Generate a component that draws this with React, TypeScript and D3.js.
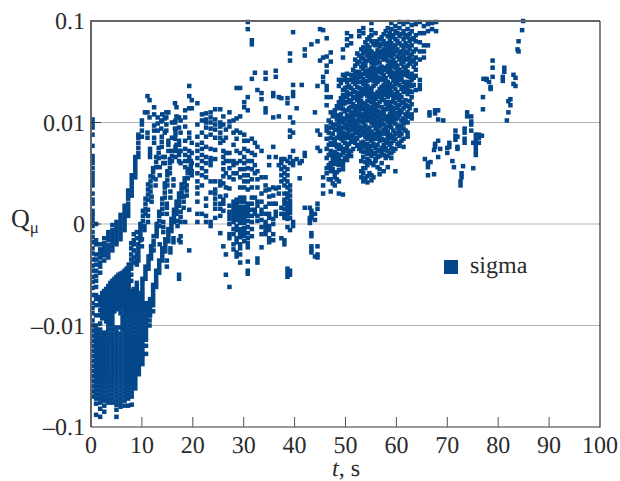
import React from 'react';
import * as d3 from 'd3';

// every column is [t, q, q, q...]; q is read in axis units: one unit per gridline
// (-2 = -0.1, -1 = -0.01, 0 = 0, 1 = 0.01, 2 = 0.1)
const startColumn: number[][] = [
  [0.3, 1.03, 0.99, 0.95, 0.88, 0.77, 0.67, 0.63, 0.6, 0.55, 0.5, 0.46, 0.42, 0.38, 0.3, 0.24, 0.2, 0.13, 0.1, 0.07, 0.03, -0.02, -0.08, -0.13, -0.18, -0.24, -0.29, -0.35, -0.41, -0.46, -0.52, -0.57, -0.63, -0.7, -0.78, -0.83, -0.88],
  [1, 0, -0.16, -0.2, -0.3, -0.35, -0.4, -0.46, -0.51, -0.56, -0.62, -0.7, -0.74, -0.8, -0.9],
];
const upperBand: number[][] = [
  [1.8, -0.2, -0.25, -0.29, -0.33, -0.38, -0.42, -0.48],
  [2.6, -0.14, -0.19, -0.23, -0.27, -0.31, -0.36],
  [3.4, -0.08, -0.12, -0.16, -0.21, -0.25, -0.29, -0.33],
  [4.2, -0.01, -0.06, -0.1, -0.14, -0.18, -0.22, -0.26],
  [5, 0.02, -0.02, -0.05, -0.09, -0.13, -0.17, -0.2],
  [5.8, 0.01, 0.05, 0.09, -0.03, -0.07, -0.11, -0.15],
  [6.6, 0.02, 0.06, 0.1, 0.14, 0.18, -0.02, -0.06],
  [7.3, 0.12, 0.16, 0.2, 0.25, 0.29, 0.33, 0.08],
  [8, 0.28, 0.32, 0.36, 0.4, 0.44, 0.48],
  [8.7, 0.46, 0.5, 0.54, 0.58, 0.62, 0.66],
  [9.3, 0.66, 0.7, 0.75, 0.8, 0.85, 0.88],
  [10, 0.86, 0.92, 0.98, 1.02],
];
const lowerBand: number[][] = [
  [1.8, -0.72, -0.76, -0.8, -0.85, -0.9],
  [2.2, -0.68, -0.73, -0.78, -0.83, -0.88, -0.93],
  [2.6, -0.66, -0.7, -0.74, -0.78, -0.82, -0.86],
  [3, -0.64, -0.68, -0.72, -0.76, -0.8, -0.84, -0.88, -0.92, -0.96],
  [3.4, -0.61, -0.66, -0.72],
  [3.8, -0.58, -0.62, -0.66, -0.7, -0.74, -0.78, -0.82, -0.86, -0.9, -0.94, -0.98],
  [4.2, -0.56, -0.6, -0.65, -0.7],
  [4.6, -0.54, -0.58, -0.62, -0.66, -0.7, -0.74, -0.78, -0.82, -0.86],
  [5, -0.52, -0.56, -0.6, -0.65, -0.7, -0.75],
  [5.4, -0.5, -0.54, -0.58, -0.62, -0.66, -0.7, -0.74, -0.78, -0.82],
  [5.8, -0.49, -0.53, -0.57, -0.61, -0.66, -0.7, -0.74, -0.79],
  [6.2, -0.48, -0.52, -0.56, -0.6, -0.64, -0.68, -0.72, -0.76, -0.8, -0.92, -0.96, -1, -1.04],
  [6.6, -0.46, -0.5, -0.54, -0.58, -0.62, -0.66, -0.7, -0.74, -0.78, -0.94, -0.98, -1.02],
  [7, -0.44, -0.48, -0.52, -0.56, -0.6, -0.64, -0.68, -0.72, -0.76, -0.8, -0.84, -0.88],
  [7.4, -0.4, -0.44, -0.48, -0.52, -0.56, -0.6, -0.64, -0.68, -0.72, -0.76],
  [7.9, -0.19, -0.24, -0.3, -0.35, -0.4, -0.44, -0.5, -0.56, -0.66, -0.7, -0.74],
  [8.4, -0.1, -0.16, -0.2, -0.26, -0.33, -0.38, -0.72, -0.68, -0.64],
  [9, -0.08, -0.14, -0.3, -0.36, -0.4, -0.7, -0.66, -0.62, -0.58],
];
const ridgeB: number[][] = [
  [9.3, -0.2, -0.24, -0.28, -0.32, -0.36],
  [9.7, -0.16, -0.12, -0.08, -0.04, 0],
  [10.2, -0.02, 0.03, 0.08, 0.13],
  [10.7, 0.1, 0.15, 0.2, 0.25],
  [11.2, 0.24, 0.29, 0.34, 0.39],
  [11.7, 0.32, 0.37, 0.42, 0.47],
  [12.2, 0.46, 0.51, 0.55],
  [12.8, 0.56, 0.61, 0.66],
  [13.3, 0.65, 0.7, 0.75],
  [13.9, 0.76, 0.81, 0.86],
];
const ridgeC: number[][] = [
  [10.1, -0.66, -0.62, -0.58, -0.54],
  [10.7, -0.54, -0.5, -0.46, -0.42],
  [11.3, -0.44, -0.4, -0.36, -0.32],
  [11.8, -0.34, -0.3, -0.26, -0.22],
  [12.3, -0.26, -0.21, -0.17, -0.12],
  [12.9, -0.12, -0.08, -0.04, 0],
  [13.4, -0.02, 0.03, 0.08, 0.12],
  [14, 0.1, 0.15, 0.2, 0.25],
  [14.5, 0.26, 0.31, 0.36, 0.4],
  [15, 0.38, 0.43, 0.48, 0.52],
  [15.5, 0.5, 0.55, 0.6, 0.64],
  [15.9, 0.62, 0.67, 0.72],
];
const ridgeD: number[][] = [
  [11.6, -0.9, -0.86, -0.82, -0.78, -0.74],
  [12.2, -0.76, -0.72, -0.68, -0.64, -0.6],
  [12.8, -0.62, -0.58, -0.54, -0.5, -0.46],
  [13.4, -0.48, -0.44, -0.4, -0.36],
  [14, -0.36, -0.32, -0.28, -0.24],
  [14.6, -0.27, -0.23, -0.19, -0.15],
  [15.2, -0.17, -0.13, -0.09, -0.05],
  [15.8, -0.07, -0.03, 0.01, 0.05],
  [16.3, 0.02, 0.06, 0.1, 0.14],
  [16.8, 0.1, 0.14, 0.18, 0.22],
  [17.3, 0.18, 0.22, 0.26, 0.3],
  [17.8, 0.27, 0.31, 0.35, 0.39],
  [18.4, 0.36, 0.41, 0.45],
  [19, 0.45, 0.5, 0.54],
  [19.6, 0.53, 0.57, 0.62],
];
// the ridges are about two marks wide in places
const ridgeEdges: number[][] = [
  [10, -0.22, -0.15],
  [10.5, -0.06, -0.02],
  [11.2, 0.02, 0.08, 0.14],
  [11.9, 0.22, 0.27],
  [12.7, 0.38, 0.44],
  [13.5, 0.48, 0.56, -0.2],
  [14.2, -0.08, -0.03, 0.02, 0.6, 0.66],
  [14.9, 0.1, 0.16, 0.2, -0.36, -0.42],
  [15.6, 0.26, 0.32, -0.28, -0.24],
  [16.2, 0.38, 0.44, -0.18, -0.14],
  [17, -0.02, 0.03],
  [17.6, 0.07, 0.12],
  [18.2, 0.16, 0.22, 0.27],
  [18.8, 0.28, 0.33, 0.38],
];
const ridgeTops: number[][] = [
  [10.6, 1.1],
  [11.6, 0.7, 0.66, 0.74],
  [12.4, 0.8, 0.85, 0.92, 0.97],
  [13.1, 0.92, 0.99, 1.05],
  [13.8, 0.94, 1.01],
  [14.5, 0.6, 0.66, 0.9, 1.04],
  [15.2, 0.72, 0.78, 0.82, 1.1],
  [15.9, 0.85, 0.02, 1],
  [16.6, 0.66, 0.72, 0.76, 0.88, 0.92, 1.02],
  [17.3, -0.16, -0.5, -0.54, 0.62, 0.68, 0.72, 0.78, 0.82, 0.95, 1.05],
];
const lowCloud: number[][] = [
  [0.3, -0.95, -1, -1.05, -1.1, -1.15, -1.2, -1.25, -1.3, -1.35, -1.4, -1.45, -1.5, -1.55, -1.6, -1.65, -1.7],
  [1, -1, -1.04, -1.08, -1.12, -1.16, -1.2, -1.24, -1.28, -1.32, -1.36, -1.4, -1.44, -1.48, -1.52, -1.56, -1.6, -1.64, -1.68, -1.72, -1.77, -1.88],
  [1.8, -0.98, -1.04, -1.08, -1.12, -1.16, -1.2, -1.24, -1.28, -1.32, -1.36, -1.4, -1.44, -1.48, -1.52, -1.56, -1.6, -1.64, -1.68, -1.72, -1.76, -1.82, -1.9],
  [2.6, -0.9, -1.07, -1.1, -1.14, -1.18, -1.22, -1.26, -1.3, -1.34, -1.38, -1.42, -1.46, -1.5, -1.54, -1.58, -1.62, -1.66, -1.7, -1.74, -1.79, -1.85],
  [3.4, -0.78, -0.84, -0.9, -0.95, -1, -1.04, -1.08, -1.12, -1.16, -1.2, -1.24, -1.28, -1.32, -1.36, -1.4, -1.44, -1.48, -1.52, -1.56, -1.6, -1.64, -1.68, -1.72, -1.76],
  [4.2, -0.76, -0.8, -0.84, -0.88, -0.92, -0.96, -1, -1.04, -1.08, -1.12, -1.16, -1.2, -1.24, -1.28, -1.32, -1.36, -1.4, -1.44, -1.48, -1.52, -1.56, -1.6, -1.64, -1.68, -1.72, -1.76],
  [5, -0.8, -0.84, -1.02, -1.06, -1.1, -1.14, -1.18, -1.22, -1.26, -1.3, -1.34, -1.38, -1.42, -1.46, -1.5, -1.54, -1.58, -1.62, -1.66, -1.7, -1.74, -1.78, -1.83, -1.9],
  [5.8, -0.84, -0.88, -1.02, -1.08, -1.12, -1.16, -1.2, -1.24, -1.28, -1.32, -1.36, -1.4, -1.44, -1.48, -1.52, -1.56, -1.6, -1.64, -1.68, -1.72, -1.76, -1.8],
  [6.6, -0.82, -0.86, -0.9, -1.06, -1.1, -1.14, -1.18, -1.22, -1.26, -1.3, -1.34, -1.38, -1.42, -1.46, -1.5, -1.54, -1.58, -1.62, -1.66, -1.7, -1.74, -1.79],
  [7.3, -0.8, -0.84, -0.88, -0.92, -0.96, -1, -1.04, -1.08, -1.12, -1.16, -1.2, -1.24, -1.28, -1.32, -1.36, -1.4, -1.44, -1.48, -1.52, -1.56, -1.6, -1.64, -1.68, -1.72, -1.79],
  [8, -0.78, -0.82, -0.86, -0.9, -0.94, -0.98, -1.02, -1.06, -1.1, -1.14, -1.18, -1.22, -1.26, -1.3, -1.34, -1.38, -1.42, -1.46, -1.5, -1.54, -1.58, -1.62, -1.66, -1.7, -1.78],
  [8.7, -0.74, -0.78, -0.82, -0.86, -0.9, -0.94, -0.98, -1.02, -1.06, -1.1, -1.14, -1.18, -1.22, -1.26, -1.3, -1.34, -1.38, -1.42, -1.46, -1.5, -1.54, -1.58, -1.62],
  [9.4, -0.68, -0.72, -0.76, -0.8, -0.84, -0.88, -0.92, -0.96, -1, -1.04, -1.08, -1.12, -1.16, -1.2, -1.24, -1.28, -1.32, -1.36, -1.4, -1.44, -1.48],
  [10.1, -0.7, -0.74, -0.78, -0.82, -0.86, -0.9, -0.94, -0.98, -1.02, -1.06, -1.1, -1.14, -1.18, -1.22, -1.26, -1.3, -1.34, -1.38],
  [10.8, -0.78, -0.82, -0.86, -0.9, -0.94, -0.98, -1.02, -1.06, -1.1, -1.14, -1.2, -1.28],
  [11.5, -0.9, -0.95, -1],
  [12.2, -0.8, -0.86],
];
const midScatter: number[][] = [
  [11.1, 1.26, 1.1, 0.9, 0.85],
  [11.5, 1.22, 1.05],
  [12.4, 1.15, 1.08],
  [14, 1.08, 1.02],
  [14.8, 1.1, 1.05, 0.98, 0.92],
  [16.5, 1.19, 1, 0.94, 0.84],
  [16.8, 1.15, 1.06, 0.78],
  [17.6, 1.02, 0.9, 0.72, 0.6, -0.12, -0.18, 0.02],
  [18.5, 1.12, 1.05, 0.96, 0.82, 0.74, 0.68, 0.62, 0.56, 0.02],
  [19.3, 1.36, 1.26, 1.14, 0.9, 0.85, 0.72, 0.66, 0.62, 0.14, -0.26],
  [19.8, 1.22, 1.14, 0.8, 0.6, 0.52, 0.48, 0.7],
  [20.9, 1.19, 0.98, 0.86, 0.78, 0.72, 0.65, 0.58, 0.5, 0.42, 0.36, 0.3, 0.22, 0.1, 0.02],
  [21.8, 1.08, 1.02, 0.9, 0.8, 0.74, 0.68, 0.62, 0.55, 0.48, 0.38, 0.1],
  [22.6, 1.09, 1.03, 1, 0.95, 0.86, 0.76, 0.66, 0.6, 0.52, 0.46, 0.25, 0.18, 0.08, 0.02],
  [23.5, 1.1, 1.05, 1, 0.94, 0.88, 0.74, 0.65, 0.62, 0.58, 0.42, 0.31, 0.02, -0.02],
  [24.4, 1.13, 1.03, 0.98, 0.93, 0.85, 0.73, 0.64, 0.42, 0.34, 0.3, 0.25, 0.2, 0.15, 0.06],
  [25.4, 1.13, 1, 0.96, 0.9, 0.85, 0.8, 0.42, 0.38, 0.27, 0.2, 0.15, 0.08, -0.09],
  [26, 1.06, 0.98, 0.82, 0.72, 0.66, 0.6, 0.54, 0.47, 0.4, 0.24, 0.2, 0.13, -0.22],
  [26.5, 0.93, 0.85, 0.7, 0.62, 0.5, 0.36, 0.28, -0.3, -0.5],
  [27.2, 1.1, 1.01, 0.96, 0.7, 0.62, 0.55, 0.46, 0.35, 0.18, 0.12, 0.09, 0.05, 0, -0.1, -0.14, -0.62],
  [28, 1.02, 0.9, 0.78, 0.62, 0.58, 0.5, 0.44, 0.22, 0.18, 0.14, 0.1, 0.06, 0.02, -0.05, -0.1, -0.2, -0.25],
  [28.6, 1.34, 1.04, 0.92, 0.84, 0.72, 0.6, 0.5, 0.24, 0.2, 0.16, 0.12, 0.08, 0.04, -0.02, -0.06, -0.14, -0.18, -0.28, -0.32],
  [29.3, 1.34, 1.06, 0.9, 0.7, 0.62, 0.54, 0.46, 0.36, 0.26, 0.22, 0.17, 0.13, 0.09, 0.05, 0.01, -0.05, -0.09, -0.13, -0.2, -0.24, -0.3, -0.38],
  [30.1, 1.15, 1.2, 0.88, 0.82, 0.74, 0.66, 0.6, 0.54, 0.48, 0.42, 0.36, 0.26, 0.22, 0.17, 0.13, 0.09, 0.05, 0.01, -0.04, -0.08, -0.12, -0.17],
  [30.8, 1.99, 1.92, 1.25, 1.12, 0.82, 0.72, 0.62, 0.55, 0.48, 0.42, 0.34, 0.2, 0.16, 0.12, 0.08, 0.03, -0.03, -0.09, -0.14, -0.19, -0.23, -0.37, -0.46, -0.49],
  [31.6, 1.81, 1.77, 1.43, 0.84, 0.7, 0.62, 0.54, 0.44, 0.36, 0.26, 0.2, 0.14, 0.08, 0.02, -0.05, -0.12],
  [32.2, 1.49, 0.8, 0.68, 0.58, 0.5, 0.26, 0.14, 0.1],
  [32.7, 1.32, 0.76, 0.52, 0.44, 0.36, 0.22, 0.18, 0.08, 0.03, -0.34, -0.38],
  [33.5, 1.29, 1.23, 0.72, 0.46, 0.3, 0.22, 0.14, 0.1, 0.04, -0.03, -0.1, -0.23],
  [34.3, 1.14, 1.1, 1.49, 1.43, 0.46, 0.38, 0.33, 0.17, 0.1, 0.02, -0.02, -0.06, -0.1],
  [35, 0.66, 0.58, 0.34, 0.27, 0.2, 0.1, 0.06, -0.02, -0.06, -0.14, -0.18],
  [35.8, 1.29, 1.26, 1.05, 0.76, 0.36, 0.28, 0.2, 0.05, 0, -0.1, -0.16],
  [36.3, 1.51, 1.45, 0.66, 0.35, 0.2, 0.12, 0.08],
  [36.9, 1.25, 1.06, 0.58, 0.36, 0.3],
  [37.4, 1.24, 0.64, 0.6, 0.54, 0.48, 0.42, 0.16, 0.1, -0.14],
  [38, 0.64, 0.56, 0.5, 0.44, 0.38, 0.3, 0.24, 0.2, 0.15, 0.1, 0.06, -0.16, -0.2],
  [38.6, 1.24, 1.19, 0.62, 0.54, 0.48, 0.42, 0.36, 0.3, 0.26, 0.21, 0.17, 0.13, 0.09, 0.05, -0.03, -0.52, -0.48, -0.44],
  [39.1, 1.68, 1.61, 1.05, 0.92, 0.86, 0.66, 0.6, 0.38, 0.33, 0.28, 0.23, 0.19, 0.15, 0.11, 0.06, -0.06, -0.5, -0.46],
  [39.7, 1.89, 1.37, 1.3, 1.26, 1, 0.9, 0.72, 0.62, 0.58, 0.02, -0.02],
  [40.4, 1.14, 0.64],
  [41, 0.6, 0.45],
  [41.4, 1.37, 0.62],
  [42, 1.72, 1.66, 0.7, 0.67, 0.16],
  [43, 0.16, 0.06, 0.01, 0.04],
  [43.3, 1.77, 0.13, 0.09, 0.06, -0.09, -0.12, -0.22, -0.25, -0.28],
  [44, 1.1, 0.1, 0.04, -0.32],
  [44.5, 1.8, 1.36, 0.92, 0.75, 0.2, 0.15, -0.22, -0.3, -0.33],
  [45, 1.92, 1.61, 0.88, 0.72],
];
const mainCloud: number[][] = [
  [45.6, 1.91, 1.64, 1.45, 1.4, 0.38, 0.46, 0.3],
  [46.3, 1.83, 1.65, 1.56, 1.5, 1.32, 1.36, 1.25, 1.17, 0.96, 0.92, 0.84, 0.74, 0.65, 0.55, 0.5],
  [47.1, 1.69, 1.6, 1.25, 1.1, 1, 0.95, 0.85, 0.8, 0.72, 0.68, 0.6, 0.56, 0.52, 0.44, 0.32],
  [47.9, 1.12, 1.08, 0.98, 0.93, 0.84, 0.8, 0.71, 0.67, 0.63, 0.59, 0.5, 0.46, 0.38],
  [48.7, 1.42, 1.36, 1.2, 1.14, 1.05, 1, 0.96, 0.91, 0.87, 0.78, 0.74, 0.66, 0.62, 0.58, 0.53, 0.42, 0.3],
  [49.5, 1.72, 1.64, 1.47, 1.42, 1.32, 1.27, 1.22, 1.18, 1.13, 1.04, 1, 0.95, 0.9, 0.86, 0.82, 0.74, 0.7, 0.62, 0.58, 0.54, 0.29],
  [50.3, 1.88, 1.82, 1.76, 1.48, 1.4, 1.35, 1.3, 1.25, 1.2, 1.12, 1.07, 1.03, 0.98, 0.94, 0.89, 0.85, 0.76, 0.72, 0.67, 0.63],
  [51.1, 1.85, 1.78, 1.47, 1.42, 1.34, 1.28, 1.2, 1.15, 1.1, 1.06, 1.01, 0.97, 0.93, 0.87, 0.83, 0.72, 0.67],
  [51.9, 1.62, 1.56, 1.5, 1.44, 1.38, 1.3, 1.25, 1.16, 1.12, 1.07, 0.99, 0.94, 0.9, 0.85, 0.8],
  [52.7, 1.9, 1.85, 1.66, 1.6, 1.5, 1.45, 1.4, 1.34, 1.29, 1.24, 1.19, 1.14, 1.1, 1.05, 0.96, 0.92, 0.87, 0.78, 0.74],
  [53.5, 1.93, 1.88, 1.74, 1.68, 1.63, 1.58, 1.53, 1.48, 1.43, 1.38, 1.33, 1.28, 1.18, 1.13, 1.08, 1.04, 1, 0.95, 0.9, 0.81, 0.76, 0.71, 0.66, 0.55, 0.5, 0.42],
  [54.3, 1.82, 1.76, 1.72, 1.66, 1.61, 1.51, 1.46, 1.41, 1.36, 1.31, 1.26, 1.21, 1.16, 1.11, 1.06, 1.02, 0.93, 0.88, 0.84, 0.79, 0.74, 0.69, 0.64, 0.58, 0.47, 0.41],
  [55.1, 1.98, 1.91, 1.86, 1.8, 1.7, 1.64, 1.59, 1.54, 1.49, 1.44, 1.34, 1.3, 1.25, 1.2, 1.15, 1.1, 1.05, 1, 0.91, 0.86, 0.82, 0.77, 0.72, 0.67, 0.6, 0.48, 0.43],
  [55.9, 1.88, 1.8, 1.76, 1.68, 1.63, 1.58, 1.53, 1.48, 1.43, 1.38, 1.28, 1.23, 1.18, 1.13, 1.08, 1.03, 0.99, 0.94, 0.89, 0.84, 0.75, 0.7, 0.64, 0.62],
  [56.7, 1.82, 1.75, 1.69, 1.64, 1.59, 1.54, 1.5, 1.42, 1.33, 1.28, 1.2, 1.1, 1.06, 1.01, 0.96, 0.91, 0.86, 0.82, 0.72, 0.67, 0.54, 0.49],
  [57.5, 1.87, 1.8, 1.72, 1.67, 1.62, 1.52, 1.47, 1.42, 1.37, 1.32, 1.27, 1.22, 1.12, 1.08, 1.03, 0.98, 0.93, 0.83, 0.78, 0.73, 0.68, 0.52],
  [58.3, 1.93, 1.85, 1.78, 1.72, 1.66, 1.61, 1.56, 1.5, 1.4, 1.35, 1.3, 1.25, 1.2, 1.16, 1.06, 1.01, 0.96, 0.91, 0.86, 0.82, 0.72, 0.67, 0.56],
  [59, 1.98, 1.92, 1.84, 1.78, 1.7, 1.65, 1.6, 1.55, 1.5, 1.45, 1.35, 1.3, 1.2, 1.15, 1.1, 1.05, 1, 0.95, 0.85, 0.8, 0.75, 0.7, 0.65],
  [59.8, 1.95, 1.9, 1.82, 1.76, 1.7, 1.59, 1.54, 1.49, 1.43, 1.38, 1.33, 1.28, 1.19, 1.14, 1.09, 1.04, 0.99, 0.89, 0.84, 0.74, 0.52],
  [60.6, 1.99, 1.93, 1.85, 1.78, 1.68, 1.62, 1.52, 1.47, 1.42, 1.37, 1.27, 1.22, 1.17, 1.12, 1.07, 0.97, 0.92, 0.87, 0.77, 0.8],
  [61.4, 1.97, 1.9, 1.82, 1.74, 1.66, 1.6, 1.55, 1.5, 1.4, 1.35, 1.3, 1.19, 1.14, 1.04, 0.99, 0.94, 0.84, 0.76],
  [62.2, 1.99, 1.92, 1.84, 1.75, 1.68, 1.62, 1.56, 1.5, 1.46, 1.4, 1.34, 1.28, 1.16, 1.1, 1.06, 1, 0.9, 0.86],
  [63, 1.96, 1.9, 1.82, 1.76, 1.67, 1.6, 1.48, 1.42, 1.36, 1.3, 1.25, 1.18, 1.08, 1.04],
  [63.8, 1.97, 1.86, 1.8, 1.72, 1.64, 1.58, 1.52, 1.46, 1.32, 1.12],
  [64.6, 1.99, 1.88, 1.79, 1.7, 1.62, 1.42, 1.37, 1.33],
  [65.4, 1.95, 1.88, 1.76, 1.7, 1.64],
  [66.2, 1.97, 1.9, 1.76],
  [67, 1.98, 1.92],
  [67.8, 1.99, 1.9],
];
// second pass through the cloud, sitting between the columns above
const mainCloudInner: number[][] = [
  [46.7, 1.02, 0.9, 0.78, 0.68, 0.58, 0.44],
  [47.5, 1.06, 0.97, 0.89, 0.78, 0.7, 0.64, 0.54, 0.4],
  [48.3, 1.16, 1.07, 1.03, 0.93, 0.85, 0.76, 0.69, 0.6, 0.51, 0.44],
  [49.1, 1.39, 1.24, 1.16, 1.08, 1.02, 0.93, 0.84, 0.76, 0.68, 0.6],
  [49.9, 1.44, 1.34, 1.26, 1.19, 1.11, 1.03, 0.96, 0.88, 0.8, 0.72, 0.65],
  [50.7, 1.42, 1.36, 1.28, 1.22, 1.14, 1.05, 1, 0.92, 0.87, 0.79, 0.7],
  [51.5, 1.52, 1.46, 1.4, 1.32, 1.24, 1.18, 1.09, 1.03, 0.96, 0.88, 0.81, 0.74],
  [52.3, 1.68, 1.58, 1.47, 1.41, 1.35, 1.27, 1.22, 1.15, 1.09, 1.02, 0.98, 0.9, 0.84, 0.77],
  [53.1, 1.72, 1.64, 1.55, 1.46, 1.4, 1.31, 1.26, 1.21, 1.16, 1.07, 1.01, 0.94, 0.88, 0.8, 0.72, 0.62, 0.52, 0.46],
  [53.9, 1.79, 1.7, 1.6, 1.56, 1.49, 1.39, 1.34, 1.29, 1.19, 1.14, 1.09, 1.04, 0.97, 0.91, 0.86, 0.78, 0.71, 0.61, 0.55, 0.45],
  [54.7, 1.84, 1.74, 1.68, 1.63, 1.52, 1.47, 1.42, 1.32, 1.27, 1.22, 1.13, 1.08, 1.03, 0.95, 0.89, 0.84, 0.76, 0.7, 0.62, 0.5],
  [55.5, 1.77, 1.66, 1.61, 1.56, 1.51, 1.46, 1.41, 1.36, 1.27, 1.22, 1.17, 1.12, 1.07, 1.02, 0.97, 0.88, 0.84, 0.79, 0.69, 0.58, 0.46],
  [56.3, 1.78, 1.71, 1.66, 1.6, 1.51, 1.45, 1.4, 1.3, 1.25, 1.16, 1.11, 1.05, 0.98, 0.92, 0.87, 0.78, 0.73, 0.66, 0.56],
  [57.1, 1.84, 1.77, 1.7, 1.65, 1.55, 1.49, 1.44, 1.35, 1.3, 1.24, 1.15, 1.09, 1.04, 0.99, 0.89, 0.84, 0.75, 0.7, 0.6],
  [57.9, 1.9, 1.76, 1.69, 1.64, 1.54, 1.44, 1.38, 1.33, 1.28, 1.18, 1.13, 1.04, 0.94, 0.89, 0.8, 0.75, 0.65],
  [58.7, 1.88, 1.81, 1.74, 1.68, 1.58, 1.52, 1.47, 1.38, 1.32, 1.27, 1.18, 1.13, 1.08, 1.03, 0.98, 0.88, 0.78, 0.7],
  [59.4, 1.86, 1.74, 1.67, 1.62, 1.57, 1.47, 1.41, 1.36, 1.26, 1.22, 1.12, 1.07, 1.02, 0.92, 0.87, 0.82, 0.72],
  [60.2, 1.88, 1.8, 1.72, 1.65, 1.56, 1.51, 1.45, 1.4, 1.3, 1.24, 1.15, 1.09, 1.04, 0.95, 0.9, 0.79],
  [61, 1.87, 1.76, 1.7, 1.64, 1.58, 1.48, 1.44, 1.33, 1.25, 1.2, 1.1, 1.02, 0.96, 0.89, 0.82],
  [61.8, 1.86, 1.78, 1.7, 1.63, 1.53, 1.47, 1.38, 1.32, 1.22, 1.17, 1.08, 1.02, 0.92],
  [62.6, 1.87, 1.8, 1.72, 1.64, 1.58, 1.45, 1.38, 1.31, 1.21, 1.14, 1.06],
  [63.4, 1.83, 1.7, 1.62, 1.55, 1.44, 1.37],
];
const tailColumns: number[][] = [
  [65.6, 0.64],
  [66.2, 0.6, 0.56, 0.48],
  [66.5, 1.1, 1.07],
  [66.7, 0.61],
  [67.4, 0.73, 0.49],
  [67.6, 1.12, 1.09, 0.79, 0.76],
  [68.2, 1.12, 1.03, 0.82, 0.66],
  [68.6, 0.74],
  [69.2, 1.02],
  [70, 0.75, 0.7],
  [70.4, 0.8, 0.76],
  [71, 0.62],
  [71.3, 0.56],
  [71.6, 0.92, 0.87, 0.83],
  [72, 0.86, 0.76, 0.74],
  [72.6, 0.42, 0.38],
  [72.8, 0.5, 0.46],
  [73.1, 0.57],
  [73.4, 0.94, 0.9, 0.84, 0.8],
  [73.9, 1.1, 1.06],
  [74.7, 1.06, 1.01, 0.98, 0.92],
  [75.1, 0.8, 0.55],
  [75.6, 0.88, 0.84, 0.8, 0.76, 0.72, 0.68],
  [76.2, 0.88, 0.85, 0.8],
  [76.8, 0.87],
  [77, 1.25, 1.13],
  [77.1, 1.43],
  [77.7, 1.43, 1.42],
  [78.2, 1.4],
  [78.5, 1.35, 1.33],
  [78.9, 1.61, 1.54, 1.45],
  [80.9, 1.41, 1.45],
  [81.2, 1.5, 1.54],
  [81.7, 1.02],
  [82, 1.21, 1.1],
  [82.4, 1.23, 1.17],
  [83, 1.38, 1.47],
  [83.4, 1.44, 1.36],
  [83.8, 1.72],
  [84, 1.8, 1.7],
  [84.7, 1.91],
  [84.9, 2],
];

const columnGroups = [startColumn, upperBand, lowerBand, ridgeB, ridgeC, ridgeD, ridgeEdges, ridgeTops, lowCloud, midScatter, mainCloud, mainCloudInner, tailColumns];

const xTicks = [0, 10, 20, 30, 40, 50, 60, 70, 80, 90, 100];
const qTicks = [-2, -1, 0, 1, 2];
const qLabels = ['–0.1', '–0.01', '0', '0.01', '0.1'];

const seriesName = 'sigma';
const blue = '#034689';
const ink = '#2b2b2b';
const serif = '"Liberation Serif", serif';

export default function App() {
  const left = 91, right = 600, top = 21, bottom = 427;
  const x = d3.scaleLinear().domain([0, 100]).range([left, right]);
  const y = d3.scaleLinear().domain([-2, 2]).range([bottom, top]);
  const size = 4.5;

  const points = columnGroups.flat().flatMap(([t, ...qs]) => qs.map((q) => [t, q]));

  return (
    <svg
      width={620}
      height={481}
      textRendering="geometricPrecision"
      style={{ position: 'absolute', left: 0, top: 0, fontFamily: serif, background: '#fff' }}
    >
      {qTicks.slice(1, -1).map((q) => (
        <line key={q} x1={left} x2={right} y1={y(q)} y2={y(q)} stroke="#b4b4b4" strokeWidth={1.2} />
      ))}
      <g fill={blue}>
        {points.map(([t, q], i) => (
          <rect key={i} x={x(t) - size / 2} y={y(q) - size / 2} width={size} height={size} />
        ))}
      </g>
      <path d={`M${left},${bottom}V${top}H${right}`} fill="none" stroke="#666" strokeWidth={2} />
      <path d={`M${left},${bottom}H${right}V${top}`} fill="none" stroke="#333" strokeWidth={1.2} />
      {xTicks.slice(1, -1).map((t) => (
        <line key={t} x1={x(t)} x2={x(t)} y1={bottom} y2={bottom - 10} stroke="#555" strokeWidth={1} />
      ))}
      {qTicks.slice(1, -1).map((q) => (
        <line key={q} x1={left} x2={left + 10} y1={y(q)} y2={y(q)} stroke="#333" strokeWidth={1} />
      ))}
      <g fontSize={24} fill={ink} textAnchor="middle">
        {xTicks.map((t) => (
          <text key={t} x={x(t)} y={453}>{t}</text>
        ))}
      </g>
      <g fontSize={24} fill={ink} textAnchor="end">
        {qTicks.map((q, i) => (
          <text key={q} x={85} y={y(q) + 8}>{qLabels[i]}</text>
        ))}
      </g>
      <text x={11} y={227} fontSize={26} fill={ink}>
        Q<tspan fontSize={17} dy={6}>μ</tspan>
      </text>
      <text x={332} y={476} fontSize={24} fill={ink}>
        <tspan fontStyle="italic">t</tspan>, s
      </text>
      <rect x={444} y={260} width={14} height={14} fill={blue} />
      <text x={470} y={273} fontSize={24} fill={ink}>{seriesName}</text>
    </svg>
  );
}
